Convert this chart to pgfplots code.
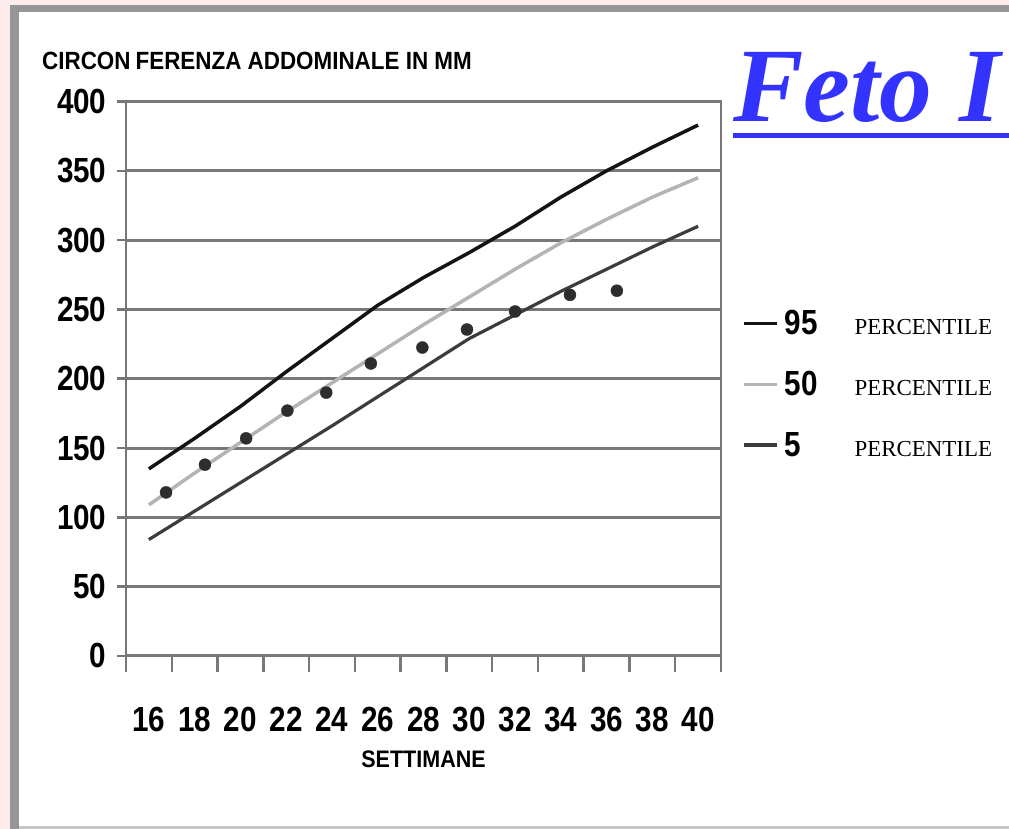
\documentclass[border=0pt]{standalone}
\usepackage{fontspec}
\usepackage{pgfplots}
\pgfplotsset{compat=1.18}
\setmainfont{Liberation Sans}
\newfontfamily\nb{Liberation Sans}[FakeStretch=0.85]
\newfontfamily\nbt{Liberation Sans}[FakeStretch=0.9]
\newfontfamily\prc{Liberation Serif}
\newfontfamily\feto{Liberation Serif}
\definecolor{pinkbg}{RGB}{253,236,236}
\definecolor{framegray}{RGB}{150,150,150}
\definecolor{gridgray}{RGB}{120,120,120}
\definecolor{fetoblue}{RGB}{51,51,255}
\definecolor{p95}{RGB}{20,20,20}
\definecolor{p50}{RGB}{180,180,180}
\definecolor{p5}{RGB}{60,60,60}
\definecolor{dotc}{RGB}{45,45,45}

\pgfplotstableread{
x y
16 135
18 157
20 180
22 205
24 229
26 253
28 273
30 291
32 310
34 331
36 350
38 367
40 383
}\ptnf
\pgfplotstableread{
x y
16 109
18 132
20 154
22 176
24 197
26 218
28 239
30 259
32 279
34 298
36 315
38 331
40 345
}\ptcin
\pgfplotstableread{
x y
16 84
18 104.5
20 125
22 145.5
24 166
26 187
28 208
30 229
32 246
34 263
36 279
38 295
40 310
}\ptcinque
\pgfplotstableread{
x y
16.75 118
18.45 138
20.25 157
22.05 177
23.75 190
25.7 211
27.95 222.5
29.9 235.5
32.0 248.5
34.4 260.5
36.45 263.5
}\ptdots

\begin{document}
\begin{tikzpicture}[x=1bp,y=1bp]
\useasboundingbox (0,0) rectangle (1009,829);
\clip (0,0) rectangle (1009,829);
\fill[pinkbg] (0,0) rectangle (1009,829);
\fill[white] (10,0) rectangle (1009,824);
\fill[framegray] (10,0) rectangle (19,824);
\fill[framegray] (10,817) rectangle (1009,824);
\fill[gray!45] (19,0) rectangle (1009,2.5);

\node[anchor=base west, inner sep=0pt, font=\nbt\bfseries\fontsize{25}{28}\selectfont]
  at (42,759) {CIRCON\hspace{5bp}FERENZA ADDOMINALE IN MM};

\node[anchor=base west, inner sep=0pt, text=fetoblue,
  font=\feto\bfseries\itshape\fontsize{106}{106}\selectfont] at (733,707) {Feto I};
\fill[fetoblue] (733,691) rectangle (1009,696);

\begin{axis}[
  at={(126bp,173bp)}, anchor=south west,
  scale only axis, width=595bp, height=554.5bp,
  xmin=15, xmax=41, ymin=0, ymax=400,
  xtick={15,17,...,41},
  xticklabels={16,18,20,22,24,26,28,30,32,34,36,38,40},
  x tick label as interval,
  ytick={0,50,...,400},
  tick align=outside,
  xtick pos=bottom, ytick pos=left,
  major tick length=16bp,
  ytick style={/pgfplots/major tick length=9bp},
  ymajorgrids,
  grid style={gridgray, line width=3bp},
  axis line style={gridgray, line width=2.5bp},
  tick style={gridgray, line width=2.5bp},
  ticklabel style={font=\nb\bfseries\fontsize{35}{40}\selectfont},
  xticklabel style={yshift=-32bp},
  /pgf/number format/assume math mode=true,
  xlabel={SETTIMANE},
  xlabel style={font=\nbt\bfseries\fontsize{24}{28}\selectfont, yshift=-12bp},
  legend style={draw=none, fill=none, at={(1.035,0.627)}, anchor=north west,
    inner sep=0pt, row sep=31bp, column sep=4bp},
  legend cell align=left,
  legend image code/.code={\draw[#1] (0bp,0bp) -- (33bp,0bp);},
  clip=false,
]
\addplot[p95, line width=3.5bp, line join=round] table[x=x,y=y] {\ptnf};
\addlegendentry{\makebox[70bp][l]{\nb\bfseries\fontsize{35}{40}\selectfont 95}{\prc\fontsize{23}{26}\selectfont PERCENTILE}}
\addplot[p50, line width=3.5bp, line join=round] table[x=x,y=y] {\ptcin};
\addlegendentry{\makebox[70bp][l]{\nb\bfseries\fontsize{35}{40}\selectfont 50}{\prc\fontsize{23}{26}\selectfont PERCENTILE}}
\addplot[p5, line width=3.2bp, line join=round] table[x=x,y=y] {\ptcinque};
\addlegendentry{\makebox[70bp][l]{\nb\bfseries\fontsize{35}{40}\selectfont 5}{\prc\fontsize{23}{26}\selectfont PERCENTILE}}
\addplot[only marks, mark=*, mark size=6bp, dotc, forget plot] table[x=x,y=y] {\ptdots};
\end{axis}
\end{tikzpicture}
\end{document}
